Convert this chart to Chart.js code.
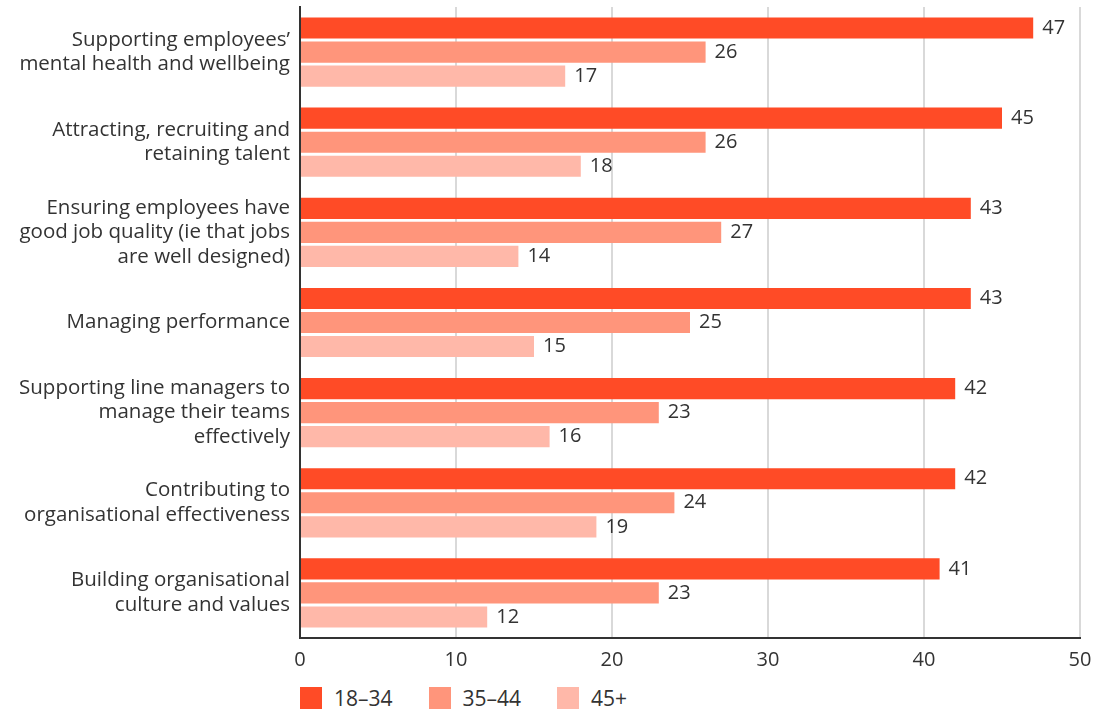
<!DOCTYPE html>
<html>
<head>
<meta charset="utf-8">
<script src="https://cdn.jsdelivr.net/npm/chart.js@4.4.1/dist/chart.umd.min.js"></script>
<style>
  body { margin: 0; background: #fff; font-family: "Open Sans", sans-serif; }
  #wrap { position: relative; width: 1094px; height: 680px; }
  #legend { position: absolute; left: 300px; top: 684px; display: flex; color: #333; font-size: 21px; }
  #legend div { display: flex; align-items: center; margin-right: 36px; }
  #legend span.box { width: 22px; height: 22px; margin-right: 12px; display: inline-block; }
</style>
</head>
<body>
<div id="wrap"><canvas id="barchart"></canvas></div>
<div id="legend"></div>
<script>
const categories = [
  ['Supporting employees\u2019', 'mental health and wellbeing'],
  ['Attracting, recruiting and', 'retaining talent'],
  ['Ensuring employees have', 'good job quality (ie that jobs', 'are well designed)'],
  ['Managing performance'],
  ['Supporting line managers to', 'manage their teams', 'effectively'],
  ['Contributing to', 'organisational effectiveness'],
  ['Building organisational', 'culture and values']
];
const seriesNames = ['18\u201334', '35\u201344', '45+'];
const age18to34 = [47, 45, 43, 43, 42, 42, 41];
const age35to44 = [26, 26, 27, 25, 23, 24, 23];
const age45plus = [17, 18, 14, 15, 16, 19, 12];
const colors = ['#FF4B26', '#FF957B', '#FFB8A9'];
const xTicks = [0, 10, 20, 30, 40, 50];

const textColor = '#333333';
const fontFamily = '"Open Sans", sans-serif';

// value labels at the end of each bar
const valueLabels = {
  id: 'valueLabels',
  afterDatasetsDraw(chart) {
    const ctx = chart.ctx;
    ctx.save();
    ctx.fillStyle = textColor;
    ctx.font = '20px ' + fontFamily;
    ctx.textBaseline = 'middle';
    ctx.textAlign = 'left';
    chart.data.datasets.forEach((ds, i) => {
      chart.getDatasetMeta(i).data.forEach((bar, j) => {
        ctx.fillText(ds.data[j], bar.x + 9, bar.y);
      });
    });
    ctx.restore();
  }
};

const ctx = document.getElementById('barchart').getContext('2d');

const chart = new Chart(ctx, {
  type: 'bar',
  data: {
    labels: categories,
    datasets: [
      { label: seriesNames[0], data: age18to34, backgroundColor: colors[0] },
      { label: seriesNames[1], data: age35to44, backgroundColor: colors[1] },
      { label: seriesNames[2], data: age45plus, backgroundColor: colors[2] }
    ]
  },
  options: {
    indexAxis: 'y',
    responsive: true,
    maintainAspectRatio: false,
    animation: false,
    layout: { padding: { top: 7, right: 14, bottom: 0, left: 0 } },
    datasets: {
      bar: { categoryPercentage: 0.8, barPercentage: 0.88 }
    },
    plugins: {
      legend: { display: false },
      tooltip: { enabled: false }
    },
    scales: {
      x: {
        min: 0,
        max: 50,
        afterBuildTicks: (scale) => { scale.ticks = xTicks.map(v => ({ value: v })); },
        grid: { color: '#d9d9d9', lineWidth: 2, drawTicks: false },
        border: { color: '#333', width: 2 },
        ticks: { color: textColor, font: { size: 20, family: fontFamily }, padding: 10 },
        afterFit: (scale) => {
          scale.height = 42;
          scale.paddingLeft = 0;
          scale.paddingRight = 0;
        }
      },
      y: {
        grid: { display: false, drawTicks: false },
        border: { color: '#333', width: 2 },
        ticks: {
          color: textColor,
          font: { size: 20.5, family: fontFamily, lineHeight: 1.2 },
          padding: 10,
          crossAlign: 'near'
        },
        afterFit: (scale) => {
          scale.width = 300;
          scale.paddingTop = 0;
          scale.paddingBottom = 0;
        }
      }
    }
  },
  plugins: [valueLabels]
});

// legend
const legend = document.getElementById('legend');
seriesNames.forEach((name, i) => {
  const item = document.createElement('div');
  item.innerHTML = '<span class="box" style="background:' + colors[i] + '"></span>' + name;
  legend.appendChild(item);
});
</script>
</body>
</html>
